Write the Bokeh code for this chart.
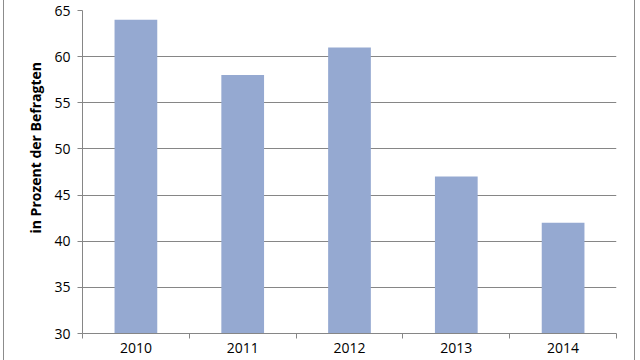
from bokeh.plotting import figure
from bokeh.models import FixedTicker, Title, Spacer, ColumnDataSource
from bokeh.layouts import row
from bokeh.embed import file_html
from bokeh.resources import INLINE

years = ["2010", "2011", "2012", "2013", "2014"]
values = [64, 58, 61, 47, 42]
y_ticks = [30, 35, 40, 45, 50, 55, 60, 65]
y_title = "in Prozent der Befragten"

FONT = "Open Sans"
GREY = "#868686"
BAR = "#95A9D1"

xs = [i + 0.5 for i in range(len(years))]
src = ColumnDataSource(dict(x=xs, top=values, year=years))

p = figure(width=630, height=360, x_range=(0, len(years)), y_range=(30, 65),
           output_backend="svg", toolbar_location=None,
           min_border_left=78, min_border_right=18, min_border_top=10, min_border_bottom=27)
p.outline_line_color = None
p.background_fill_color = "white"
p.border_fill_color = "white"

p.vbar(x="x", top="top", bottom=30, width=0.4, source=src, fill_color=BAR, line_color=None)

# x axis: labels at centres, ticks at boundaries
p.xaxis.ticker = FixedTicker(ticks=xs, minor_ticks=list(range(len(years) + 1)))
p.xaxis.major_label_overrides = {x: y for x, y in zip(xs, years)}
p.xaxis.major_tick_line_color = None
p.xaxis.minor_tick_line_color = GREY
p.xaxis.minor_tick_out = 5
p.xaxis.minor_tick_in = 0
p.xaxis.axis_line_color = GREY
p.xaxis.major_label_standoff = 3
p.xgrid.grid_line_color = None

p.yaxis.ticker = FixedTicker(ticks=y_ticks)
p.yaxis.major_tick_line_color = GREY
p.yaxis.major_tick_out = 5
p.yaxis.major_tick_in = 0
p.yaxis.minor_tick_line_color = None
p.yaxis.axis_line_color = GREY
p.yaxis.major_label_standoff = 7
p.ygrid.grid_line_color = GREY
p.ygrid.ticker = FixedTicker(ticks=y_ticks[1:])

for ax in (p.xaxis, p.yaxis):
    ax.major_label_text_font = FONT
    ax.major_label_text_font_size = "14px"
    ax.major_label_text_color = "#000000"

p.add_layout(Title(text=y_title, align="left", offset=100, standoff=13,
                   text_font=FONT, text_font_size="14px", text_font_style="bold",
                   text_color="#000000"), "left")

left_line = Spacer(width=1, height=360, styles={"background-color": "#8c8c8c"})
right_line = Spacer(width=1, height=360, styles={"background-color": "#8c8c8c"})
layout = row(Spacer(width=3, height=360), left_line, p, right_line, Spacer(width=5, height=360), spacing=0)

open("out.html", "w").write(file_html(layout, INLINE))
